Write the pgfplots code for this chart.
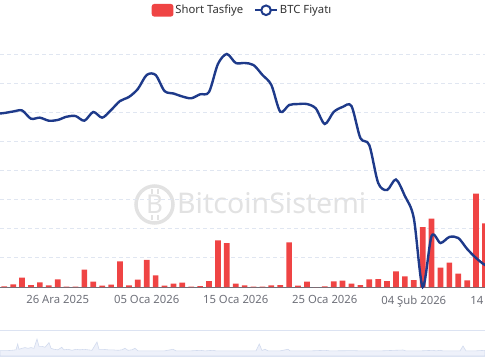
\documentclass[border=0pt]{standalone}
\usepackage{pgfplots}
\usepackage{pgfplotstable}
\pgfplotsset{compat=1.18}
\usepackage{fontspec}
\setmainfont{Noto Sans}
\definecolor{barred}{HTML}{EF4444}
\definecolor{btcblue}{HTML}{1E3A8A}
\definecolor{axgray}{HTML}{6E7079}
\definecolor{gridc}{HTML}{E0E6F1}
\definecolor{wm}{HTML}{E2E2E2}
\definecolor{legtext}{HTML}{333333}
\definecolor{slline}{HTML}{D2DBEE}
\definecolor{slfill}{HTML}{EEF1FA}
\definecolor{slborder}{HTML}{DCE3F2}

\pgfplotstableread{
d v
-6 0.09
-5 0.46
-4 1.60
-3 0.34
-2 0.81
-1 0.29
0 1.32
1 0.05
2 0.05
3 2.97
4 0.91
5 0.22
6 0.39
7 4.41
8 0.29
9 1.25
10 4.64
11 2.01
12 0.22
13 0.57
14 0.74
15 0.05
16 0.17
17 1.03
18 8.02
19 7.55
20 0.57
21 0.29
22 0.05
23 0.05
24 0.29
25 0.34
26 7.67
27 0.22
28 0.91
29 0.00
30 0.12
31 0.98
32 1.08
33 0.57
34 0.34
35 1.32
36 1.37
37 1.03
38 2.70
39 1.82
40 1.20
41 10.30
42 11.74
43 3.33
44 4.19
45 2.30
46 1.15
47 16.03
48 10.94
}\shorttbl

\pgfplotstableread{
d p
-7 88.25
-6 88.39
-5 88.61
-4 88.76
-3 87.56
-2 87.71
-1 87.27
0 87.37
1 87.85
2 87.95
3 87.27
4 88.54
5 87.71
6 88.83
7 90.14
8 90.73
9 91.89
10 93.94
11 93.94
12 91.60
13 91.24
14 90.80
15 90.54
16 91.12
17 91.46
18 95.54
19 97.00
20 95.69
21 95.69
22 95.39
23 93.94
24 92.48
25 88.58
26 89.56
27 89.70
28 89.70
29 89.05
30 86.79
31 88.54
32 89.27
33 89.41
34 84.74
35 83.72
36 78.18
37 77.15
38 78.69
39 76.28
40 73.07
41 63.00
42 70.44
43 69.42
44 70.30
45 70.15
46 68.54
47 67.23
48 66.21
49 65.77
}\btctbl

\pgfplotstableread{
x h
0 5.4
8 5.4
12 5.7
16 6.2
17.7 12.0
19 6.7
22 7.7
25 8.4
28 7.7
31 8.4
34 7.7
37 17.0
39 9.7
42 9.7
45 8.7
49 13.4
51 7.7
54 6.7
58 6.2
61.7 8.7
64 6.2
68 6.7
72 5.7
76 6.7
80 6.2
84 6.7
88 6.2
92 5.7
97 14.0
99 6.7
103 6.7
108 6.2
112 6.2
118 5.7
122 6.2
125 7.7
128 5.7
132 6.2
135 7.7
138 5.2
145 5.2
155 5.1
165 5.2
173 6.7
176 5.2
190 5.1
200 5.7
205 5.1
213 5.7
216 5.1
225 5.1
235 5.1
250 5.1
256 5.1
259.3 12.0
262 5.5
265 6.7
268 5.2
280 5.1
288 6.7
290 5.2
300 5.1
310 5.1
325 5.7
330 5.1
353 5.4
360 5.1
380 5.1
403 6.0
406 5.1
420 5.1
433 5.7
436 5.1
440 5.7
443 5.1
455 5.1
460 5.1
463 10.0
466 5.1
475 5.1
485 5.7
}\slidertbl

\begin{document}
\begin{tikzpicture}[x=1pt,y=1pt]

% watermark
\draw[wm, line width=3.5pt] (154.5,155.5) circle (18.5);
\node[text=wm, font=\bfseries\fontsize{26}{26}\selectfont] at (154.5,155.5) {B};
\draw[wm, line width=2pt] (151.5,166) -- (151.5,171) (157.5,166) -- (157.5,171) (151.5,140) -- (151.5,145) (157.5,140) -- (157.5,145);
\node[text=wm, font=\fontsize{28.5}{28.5}\selectfont, anchor=base west, inner sep=0pt] at (177,147) {BitcoinSistemi};

% bars
\begin{axis}[
  at={(0pt,73pt)}, anchor=south west,
  width=485pt, height=233pt, scale only axis,
  xmin=-6.48, xmax=48.0, ymin=0, ymax=40,
  clip=false,
  ytick={5,10,...,40}, yticklabels={},
  ymajorgrids,
  grid style={gridc, dash pattern=on 4pt off 3pt, line width=0.8pt},
  axis x line*=bottom,
  y axis line style={draw=none},
  ytick style={draw=none},
  x axis line style={axgray, line width=0.8pt, -},
  xtick={0,10,20,30,40},
  xticklabels={26 Ara 2025, 05 Oca 2026, 15 Oca 2026, 25 Oca 2026, 04 Şub 2026},
  xtick style={draw=none},
  xticklabel style={text=axgray, font=\fontsize{11.3}{13}\selectfont, yshift=-5pt},
  extra x ticks={-0.5,9.5,19.5,29.5,39.5},
  extra x tick labels={},
  extra x tick style={major tick length=5pt, tick align=outside, tick style={draw=axgray, line width=0.8pt}, grid=none},
  legend style={at={(0.5,1.2189)}, anchor=north, draw=none, fill=none,
    legend columns=2, font=\fontsize{11.3}{13}\selectfont, text=legtext,
    /tikz/every even column/.append style={column sep=9pt},
    inner sep=0pt},
]
\addplot[ybar, bar width=5.7pt, fill=barred, draw=none,
  legend image code/.code={\fill[barred, rounded corners=2.5pt] (0pt,-6.3pt) rectangle (21.7pt,6.3pt);}]
  table[x=d, y=v] {\shorttbl};
\addlegendentry{Short Tasfiye}
\addlegendimage{legend image code/.code={\draw[btcblue, line width=2pt] (0pt,0pt) -- (21.7pt,0pt); \draw[btcblue, line width=2pt, fill=white] (10.85pt,0pt) circle (4.8pt);}}
\addlegendentry{BTC Fiyatı}
\node[anchor=north, text=axgray, font=\fontsize{11.3}{13}\selectfont, yshift=-5pt] at (axis cs:50,0) {14 Şub 2026};
\end{axis}

% BTC line
\begin{axis}[
  at={(0pt,73pt)}, anchor=south west,
  width=485pt, height=233pt, scale only axis,
  xmin=-6.48, xmax=48.0, ymin=63, ymax=97,
  hide axis, clip=false,
]
\addplot[btcblue, line width=2.4pt, smooth, tension=0.5, no marks] table[x=d, y=p] {\btctbl};
\end{axis}

% data zoom slider
\begin{axis}[
  at={(0pt,4pt)}, anchor=south west,
  width=485pt, height=25.7pt, scale only axis,
  xmin=0, xmax=485, ymin=0, ymax=25.7,
  hide axis,
]
\addplot[slline, fill=slfill, line width=0.6pt] table[x=x, y=h] {\slidertbl} \closedcycle;
\end{axis}
\draw[slborder, line width=0.9pt] (0,29.7) -- (485,29.7);
\draw[slborder, line width=0.9pt] (0,4) -- (485,4);

\pgfresetboundingbox
\path[use as bounding box] (0pt,0pt) rectangle (485pt,360pt);
\end{tikzpicture}
\end{document}
